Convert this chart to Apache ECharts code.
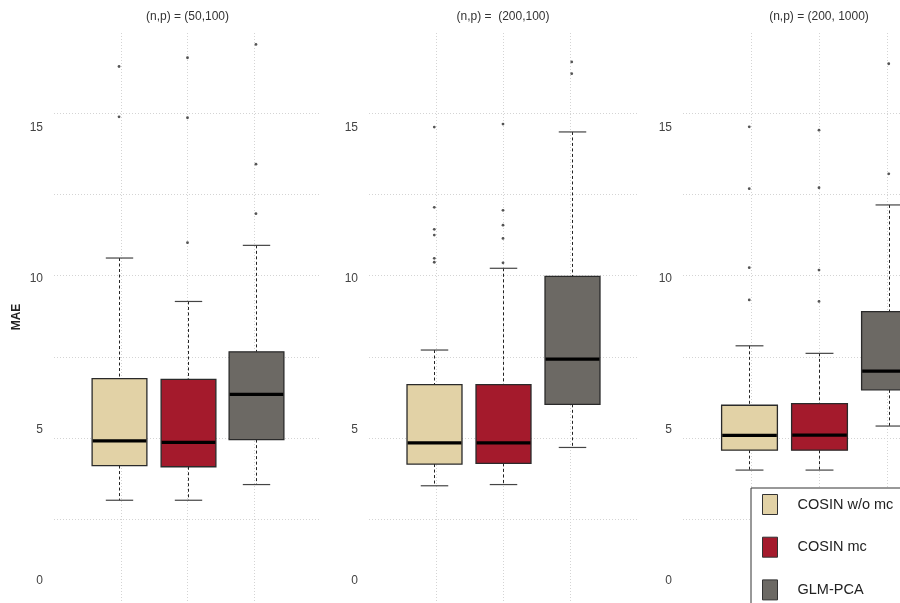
<!DOCTYPE html>
<html>
<head>
<meta charset="utf-8">
<script src="https://cdn.jsdelivr.net/npm/echarts@6/dist/echarts.min.js"></script>
<style>html,body{margin:0;padding:0;background:#fff;}#chart{width:900px;height:603px;}</style>
</head>
<body>
<div id="chart"></div>
<script>
// ---- data ----
const methods = ['COSIN w/o mc', 'COSIN mc', 'GLM-PCA'];
const panelTitles = ['(n,p) = (50,100)', '(n,p) =  (200,100)', '(n,p) = (200, 1000)'];
const yTickLabels = [0, 5, 10, 15];
const yAxisName = 'MAE';
// box stats per method: [lower whisker, Q1, median, Q3, upper whisker]
const stats_50_100 = [
  [2.66, 3.81, 4.63, 6.69, 10.69],
  [2.66, 3.77, 4.58, 6.67, 9.25],
  [3.18, 4.67, 6.17, 7.58, 11.11]
];
const outliers_50_100 = [
  [15.37, 17.04],
  [11.2, 15.34, 17.33],
  [12.16, 13.8, 17.77]
];
const stats_200_100 = [
  [3.14, 3.86, 4.56, 6.49, 7.64],
  [3.18, 3.88, 4.56, 6.49, 10.35],
  [4.41, 5.84, 7.34, 10.08, 14.87]
];
const outliers_200_100 = [
  [10.55, 10.68, 11.45, 11.64, 12.37, 15.03],
  [10.53, 11.34, 11.78, 12.27, 15.13],
  [16.8, 17.19]
];
const stats_200_1000 = [
  [3.66, 4.32, 4.81, 5.81, 7.78],
  [3.66, 4.32, 4.82, 5.86, 7.53],
  [5.12, 6.32, 6.94, 8.91, 12.45]
];
const outliers_200_1000 = [
  [9.3, 10.37, 12.99, 15.04],
  [9.25, 10.29, 13.02, 14.93],
  [13.48, 17.13]
];

// ---- styles / layout ----
const colors = ['#E2D2A6', '#A41A2C', '#6C6964'];
const panelStats = [stats_50_100, stats_200_100, stats_200_1000];
const panelOutliers = [outliers_50_100, outliers_200_100, outliers_200_1000];
const gridLefts = [54, 369, 683];
const gridRights = [579, 263, -55];
const FONT = 'Liberation Sans, Arial, sans-serif';

function renderBox(params, api) {
  const x = api.value(0);
  const mn = api.value(1), q1 = api.value(2), md = api.value(3), q3 = api.value(4), mx = api.value(5);
  const w = api.size([0.8, 0])[0];
  const cw = api.size([0.4, 0])[0];
  const pMin = api.coord([x, mn]);
  const pQ1 = api.coord([x, q1]);
  const pMd = api.coord([x, md]);
  const pQ3 = api.coord([x, q3]);
  const pMax = api.coord([x, mx]);
  const cx = Math.round(pMin[0]) + 0.5;
  const fill = api.visual('color');
  const dash = {stroke: '#222', lineWidth: 1, lineDash: [3, 2.5]};
  return {
    type: 'group',
    children: [
      {type: 'line', shape: {x1: cx, y1: pMax[1], x2: cx, y2: pQ3[1]}, style: dash},
      {type: 'line', shape: {x1: cx, y1: pQ1[1], x2: cx, y2: pMin[1]}, style: dash},
      {type: 'line', shape: {x1: cx - cw / 2, y1: pMax[1], x2: cx + cw / 2, y2: pMax[1]}, style: {stroke: '#444', lineWidth: 1.2}},
      {type: 'line', shape: {x1: cx - cw / 2, y1: pMin[1], x2: cx + cw / 2, y2: pMin[1]}, style: {stroke: '#444', lineWidth: 1.2}},
      {type: 'rect', shape: {x: cx - w / 2, y: pQ3[1], width: w, height: pQ1[1] - pQ3[1]}, style: {fill: fill, stroke: '#2a2a2a', lineWidth: 1.3}},
      {type: 'line', shape: {x1: cx - w / 2 + 0.6, y1: pMd[1], x2: cx + w / 2 - 0.6, y2: pMd[1]}, style: {stroke: '#000', lineWidth: 3.2}}
    ]
  };
}

const grid = [], xAxis = [], yAxis = [], series = [], graphic = [];
const gridLineStyle = {color: '#d4d4d4', width: 1, type: [1, 2]};
for (let i = 0; i < 3; i++) {
  grid.push({left: gridLefts[i], right: gridRights[i], top: 33, bottom: 2, containLabel: false, outerBoundsMode: 'none'});
  // gridline x axis
  xAxis.push({gridIndex: i, type: 'value', min: 0, max: 4, interval: 1,
    axisLine: {show: false}, axisTick: {show: false}, axisLabel: {show: false},
    splitLine: {show: true, showMinLine: false, showMaxLine: false, lineStyle: gridLineStyle}});
  // box position axis
  xAxis.push({gridIndex: i, type: 'value', min: 0.05, max: 3.95, show: false, splitLine: {show: false}});
  // value axis with labels
  yAxis.push({gridIndex: i, type: 'value', min: -0.68, max: 18.15,
    axisLine: {show: false}, axisTick: {show: false}, splitLine: {show: false},
    axisLabel: {customValues: yTickLabels, margin: 11, color: '#444', fontSize: 12, fontFamily: FONT},
    name: i === 0 ? yAxisName : '', nameLocation: 'middle', nameRotate: 90, nameGap: 31,
    nameTextStyle: {fontSize: 12, fontWeight: 'bold', color: '#222', fontFamily: FONT}});
  // gridline y axis
  yAxis.push({gridIndex: i, type: 'value', min: 0, max: 6.984, interval: 1, position: 'left',
    axisLine: {show: false}, axisTick: {show: false}, axisLabel: {show: false},
    splitLine: {show: true, showMinLine: false, showMaxLine: false, lineStyle: gridLineStyle}});

  for (let m = 0; m < 3; m++) {
    series.push({
      type: 'custom', name: methods[m], xAxisIndex: 2 * i + 1, yAxisIndex: 2 * i,
      itemStyle: {color: colors[m], borderColor: '#333', borderWidth: 1},
      encode: {x: 0, y: [1, 2, 3, 4, 5]},
      renderItem: renderBox,
      data: [[m + 1].concat(panelStats[i][m])],
      z: 3
    });
    series.push({
      type: 'scatter', xAxisIndex: 2 * i + 1, yAxisIndex: 2 * i,
      symbol: 'circle', symbolSize: 2.8,
      itemStyle: {color: '#2a2a2a'},
      data: panelOutliers[i][m].map(v => [m + 1, v]),
      z: 4
    });
  }
  graphic.push({type: 'text', x: (gridLefts[i] + 900 - gridRights[i]) / 2, y: 17,
    style: {text: panelTitles[i], align: 'center', verticalAlign: 'middle',
      font: '12px ' + FONT, fill: '#333'}});
}

const chart = echarts.init(document.getElementById('chart'), null, {renderer: 'canvas'});
chart.setOption({
  animation: false,
  backgroundColor: '#fff',
  grid: grid,
  xAxis: xAxis,
  yAxis: yAxis,
  graphic: graphic,
  legend: {
    left: 751, top: 488, width: 300, height: 200, orient: 'vertical',
    itemWidth: 15, itemHeight: 20, itemGap: 21.7,
    padding: [6, 200, 30, 11],
    borderColor: '#333', borderWidth: 1, backgroundColor: '#fff',
    icon: 'rect',
    textStyle: {fontSize: 14.5, color: '#222', fontFamily: FONT, padding: [0, 0, 0, 15]},
    data: methods.map((m, k) => ({name: m, itemStyle: {color: colors[k], borderColor: '#333', borderWidth: 1}})),
    selectedMode: false
  },
  series: series
});
</script>
</body>
</html>
